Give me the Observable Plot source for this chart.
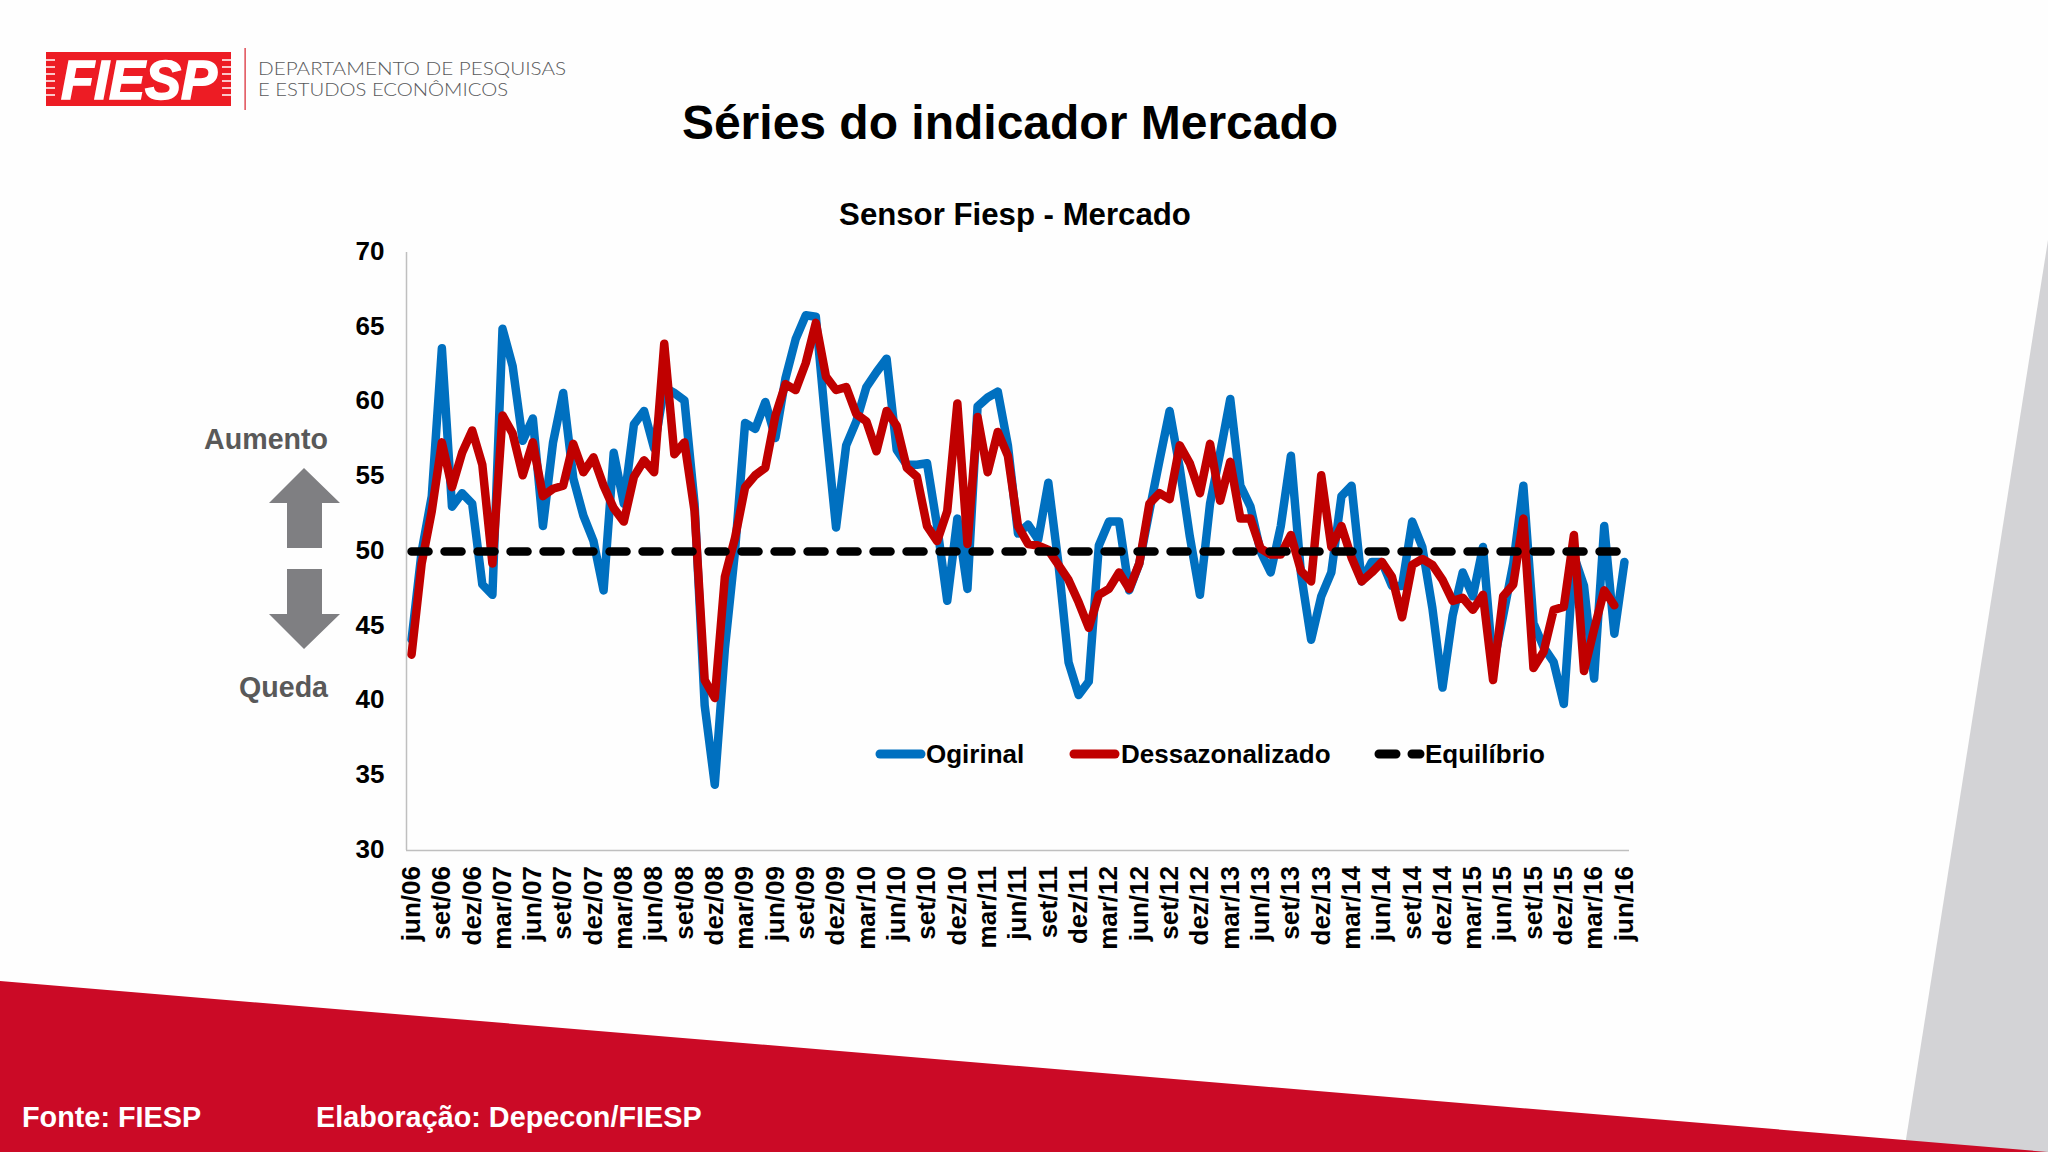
<!DOCTYPE html>
<html lang="pt"><head><meta charset="utf-8">
<script src="https://cdn.jsdelivr.net/npm/d3@7"></script>
<script src="https://cdn.jsdelivr.net/npm/@observablehq/plot@0.6"></script>
<style>
html,body{margin:0;padding:0;background:#fefefe;width:2048px;height:1152px;overflow:hidden;font-family:"Liberation Sans",Arial,sans-serif}
#page{position:relative;width:2048px;height:1152px}
#bg,#chart{position:absolute;left:0;top:0}
.t{position:absolute;white-space:nowrap;font-weight:700;line-height:1}
</style></head><body>
<div id="page">
<svg id="bg" width="2048" height="1152" viewBox="0 0 2048 1152">
  <polygon points="2048,240 2048,1152 1904,1152" fill="#d3d3d6"/>
  <polygon points="0,981 2048,1152 0,1152" fill="#cb0a26"/>
  <rect x="46" y="52" width="185" height="54" fill="#ed1c24"/>
  <g stroke="#fff" stroke-width="1.5">
    <path d="M46 60h9M46 67h9M46 74h9M46 81h9M46 88h9M46 95h9M222 60h9M222 67h9M222 74h9M222 81h9M222 88h9M222 95h9"/>
  </g>
  <text x="139" y="99" text-anchor="middle" font-family="Liberation Sans" font-weight="700" font-style="italic" font-size="56" fill="#fff" stroke="#fff" stroke-width="1.6" textLength="156" lengthAdjust="spacingAndGlyphs">FIESP</text>
  <rect x="244.5" y="48" width="1.2" height="62" fill="#d8202c"/>
  <g font-family="Lato" font-weight="300" font-size="18.5" fill="#58595b">
    <text x="258" y="75" textLength="308" lengthAdjust="spacingAndGlyphs">DEPARTAMENTO DE PESQUISAS</text>
    <text x="258" y="96" textLength="250" lengthAdjust="spacingAndGlyphs">E ESTUDOS ECONÔMICOS</text>
  </g>
  <g fill="#7f7f82">
    <polygon points="304,468 340,503 322,503 322,548 287,548 287,503 269,503"/>
    <polygon points="304,649 340,614 322,614 322,569 287,569 287,614 269,614"/>
  </g>
</svg>
<div id="chart"></div>
<div class="t" style="left:0;width:2020px;text-align:center;top:99px;font-size:48px;color:#000">Séries do indicador Mercado</div>
<div class="t" style="left:0;width:2030px;text-align:center;top:199px;font-size:31.2px;color:#000">Sensor Fiesp - Mercado</div>
<div class="t" style="right:1720px;top:425px;font-size:28.6px;color:#595959">Aumento</div>
<div class="t" style="right:1720px;top:673px;font-size:28.6px;color:#595959">Queda</div>
<div class="t" style="left:22px;top:1103px;font-size:28.8px;color:#fff">Fonte: FIESP</div>
<div class="t" style="left:316px;top:1103px;font-size:28.8px;color:#fff">Elaboração: Depecon/FIESP</div>
<svg id="legend" width="2048" height="1152" style="position:absolute;left:0;top:0;pointer-events:none" font-family="Liberation Sans" font-weight="700" font-size="26">
  <line x1="880" x2="921" y1="754" y2="754" stroke="#0070c0" stroke-width="9" stroke-linecap="round"/>
  <text x="926" y="763">Ogirinal</text>
  <line x1="1074" x2="1115" y1="754" y2="754" stroke="#c00000" stroke-width="9" stroke-linecap="round"/>
  <text x="1121" y="763">Dessazonalizado</text>
  <line x1="1379" x2="1420" y1="754" y2="754" stroke="#000" stroke-width="9" stroke-linecap="round" stroke-dasharray="17 16"/>
  <text x="1425" y="763">Equilíbrio</text>
</svg>
</div>
<script>
const tickLabels = ["jun/06","set/06","dez/06","mar/07","jun/07","set/07","dez/07","mar/08","jun/08","set/08","dez/08","mar/09","jun/09","set/09","dez/09","mar/10","jun/10","set/10","dez/10","mar/11","jun/11","set/11","dez/11","mar/12","jun/12","set/12","dez/12","mar/13","jun/13","set/13","dez/13","mar/14","jun/14","set/14","dez/14","mar/15","jun/15","set/15","dez/15","mar/16","jun/16"];
const original = [44.1,50,53.7,63.6,53,53.9,53.2,47.8,47.1,64.9,62.4,57.4,58.9,51.7,57.3,60.6,54.9,52.4,50.7,47.4,56.6,53.2,58.5,59.4,56.9,61,60.6,60.1,53.2,39.7,34.4,43.5,50,58.6,58.2,60,57.6,61.6,64.2,65.8,65.7,58.3,51.6,57.1,58.7,61,62,62.9,56.8,55.8,55.8,55.9,51.7,46.7,52.2,47.5,59.7,60.3,60.7,57.1,51.2,51.8,50.8,54.6,49.2,42.6,40.4,41.3,50.4,52,52,47.4,49.2,52.7,56.1,59.4,55.6,51,47.1,53.2,56.6,60.2,54.4,53,50,48.6,51.7,56.4,48.5,44.1,47,48.6,53.7,54.4,48,49.3,49.3,47.7,47.7,52,50.3,46.2,40.9,45.7,48.6,47,50.3,42.3,45.7,49.2,54.4,45.2,43.6,42.6,39.8,49.7,47.7,41.5,51.7,44.5,49.3];
const dessazonalizado = [43.1,49.2,52.7,57.3,54.3,56.6,58.1,55.8,49.2,59.1,57.9,55.1,57.3,53.7,54.2,54.4,57.2,55.3,56.3,54.4,52.9,52,55,56.1,55.3,63.9,56.5,57.3,52.7,41.4,40.2,48.3,50.9,54.3,55.1,55.6,59.1,61.2,60.8,62.6,65.3,61.7,60.8,61,59.2,58.7,56.7,59.4,58.4,55.6,55,51.7,50.7,52.7,59.9,50.5,59,55.3,58,56.4,51.7,50.5,50.4,50.1,49.1,48.1,46.6,44.9,47.1,47.5,48.6,47.5,49.2,53.2,53.9,53.5,57.1,55.9,53.9,57.2,53.4,56,52.2,52.2,50.2,49.8,49.8,51.1,48.7,48,55.1,50.3,51.7,49.6,48,48.6,49.3,48.3,45.6,49.1,49.5,49.1,48.1,46.7,46.9,46.1,47.1,41.4,47,47.8,52.2,42.2,43.3,46.1,46.3,51.1,42,44.8,47.4,46.4];
const equilibrio = original.map(() => 50);
const tickValues = tickLabels.map((_, k) => k * 3);
const lineOpts = {x: (d, i) => i, y: d => d, strokeWidth: 8.5, strokeLinejoin: "round", strokeLinecap: "round"};
const chart = Plot.plot({
  width: 2048, height: 1152,
  marginLeft: 406, marginRight: 419, marginTop: 252, marginBottom: 302,
  style: {background: "transparent", fontFamily: "Liberation Sans", color: "#000"},
  x: {domain: [-0.5, 120.5]},
  y: {domain: [30, 70]},
  marks: [
    Plot.axisY({ticks: d3.range(30, 71, 5), tickSize: 0, tickPadding: 22, dy: -1, fontSize: 26, fontWeight: 700, label: null}),
    Plot.axisX({ticks: tickValues, tickFormat: (d) => tickLabels[d / 3], tickSize: 0, tickRotate: -90, tickPadding: 15.5, fontSize: 26, fontWeight: 700, label: null}),
    Plot.ruleX([-0.5], {stroke: "#bfbfbf", strokeWidth: 1.5}),
    Plot.ruleY([30], {stroke: "#bfbfbf", strokeWidth: 1.5}),
    Plot.line(original, {...lineOpts, stroke: "#0070c0"}),
    Plot.line(dessazonalizado, {...lineOpts, stroke: "#c00000"}),
    Plot.line(equilibrio, {...lineOpts, stroke: "#000", strokeDasharray: "17 16"})
  ]
});
document.getElementById("chart").appendChild(chart);
</script>
</body></html>
